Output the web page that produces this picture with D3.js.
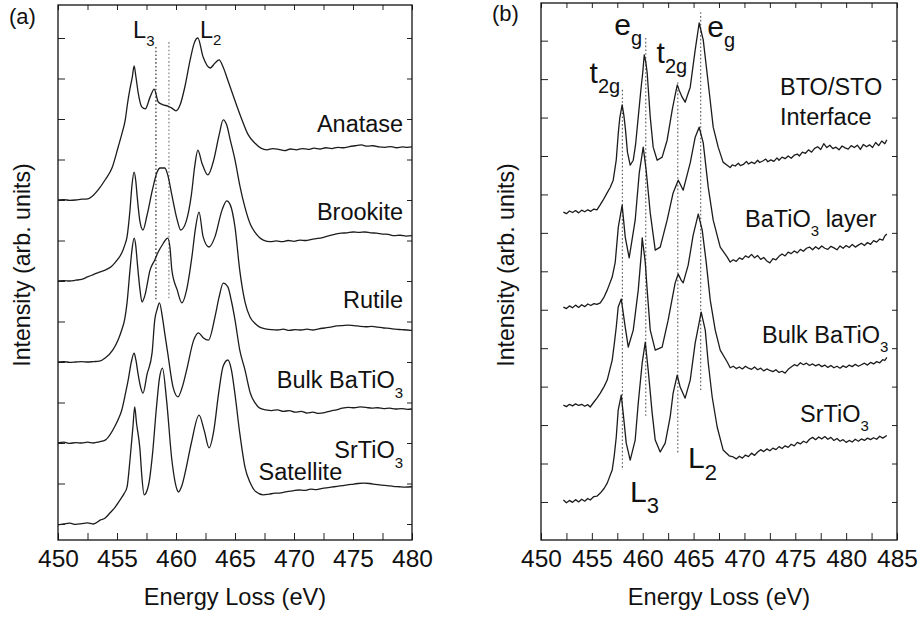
<!DOCTYPE html>
<head>
  <meta charset="utf-8">
  <title>Ti L2,3 edges</title>
  <script src="https://cdn.jsdelivr.net/npm/d3@7"></script>
  <style>
    body { margin: 0; background: #fff; }
    svg text { font-family: "Liberation Sans", Arial, sans-serif; fill: #111; }
  </style>
</head>
<body>
<svg width="920" height="617"></svg>
<script>

// tick labels
var eVLabelsA = [450, 455, 460, 465, 470, 475, 480];
var eVLabelsB = [450, 455, 460, 465, 470, 475, 480, 485];

// ---- panel (a) spectra: [energy loss eV, intensity], before vertical offset ----
var anatase = [[450.0,0.00],[450.5,0.01],[451.0,-0.01],[451.5,0.00],[452.0,0.02],[452.5,0.03],[453.0,0.12],[453.4,0.25],[454.0,0.50],[454.6,0.81],[455.1,1.31],[455.4,1.62],[455.7,1.98],[455.9,2.40],[456.1,2.75],[456.3,3.04],[456.45,3.31],[456.6,3.05],[456.8,2.64],[457.1,2.30],[457.4,2.25],[457.8,2.54],[458.15,2.74],[458.5,2.42],[458.9,2.35],[459.3,2.32],[459.65,2.27],[460.0,2.20],[460.35,2.35],[460.75,2.79],[461.2,3.46],[461.55,3.88],[461.85,4.00],[462.3,3.53],[462.9,3.26],[463.3,3.38],[463.65,3.46],[464.0,3.28],[464.4,2.95],[465.0,2.45],[465.5,2.05],[466.1,1.62],[466.7,1.40],[467.2,1.28],[467.7,1.24],[468.2,1.27],[468.7,1.25],[469.2,1.22],[469.7,1.26],[470.2,1.24],[470.7,1.27],[471.2,1.25],[471.7,1.28],[472.2,1.26],[472.7,1.29],[473.2,1.27],[473.7,1.30],[474.2,1.29],[474.7,1.32],[475.2,1.34],[475.7,1.36],[476.2,1.33],[476.7,1.34],[477.2,1.31],[477.7,1.30],[478.2,1.32],[478.7,1.29],[479.2,1.31],[479.6,1.30],[480.0,1.31]];
var brookite = [[450.0,0.00],[450.5,0.01],[451.0,0.00],[451.5,0.02],[452.0,0.04],[452.5,0.10],[453.0,0.16],[453.5,0.22],[454.0,0.27],[454.5,0.35],[454.8,0.44],[455.1,0.55],[455.4,0.69],[455.65,0.88],[455.85,1.09],[456.1,1.75],[456.27,2.37],[456.45,2.69],[456.6,2.45],[456.7,2.12],[456.95,1.46],[457.2,1.26],[457.55,1.63],[458.0,2.25],[458.4,2.69],[458.65,2.79],[459.05,2.79],[459.3,2.62],[459.65,2.12],[460.1,1.51],[460.4,1.26],[460.85,1.46],[461.3,2.12],[461.6,2.86],[461.85,3.23],[462.2,2.91],[462.7,2.62],[463.2,2.99],[463.65,3.60],[464.0,3.98],[464.3,3.85],[464.6,3.48],[465.0,2.99],[465.4,2.37],[465.85,1.81],[466.3,1.40],[466.7,1.20],[467.4,1.01],[468.0,0.97],[468.5,0.99],[469.0,0.97],[469.5,1.00],[470.0,0.98],[470.5,1.01],[471.0,1.00],[471.5,1.03],[472.0,1.05],[472.5,1.08],[473.0,1.12],[473.5,1.16],[474.0,1.18],[474.5,1.19],[475.0,1.21],[475.5,1.20],[476.0,1.21],[476.5,1.19],[477.0,1.18],[477.5,1.16],[478.0,1.15],[478.5,1.12],[479.0,1.13],[479.5,1.11],[480.0,1.12]];
var rutile = [[450.0,0.00],[450.5,0.01],[451.0,-0.01],[451.5,0.00],[452.0,0.01],[452.5,0.00],[453.0,0.01],[453.5,0.02],[454.0,0.10],[454.65,0.30],[455.1,0.55],[455.4,0.79],[455.65,1.05],[455.85,1.46],[456.1,2.27],[456.27,2.77],[456.45,3.06],[456.6,2.85],[456.7,2.52],[456.95,1.78],[457.12,1.48],[457.37,1.65],[457.8,2.27],[458.2,2.52],[458.45,2.69],[458.9,2.92],[459.3,3.06],[459.5,2.80],[459.65,2.27],[460.1,1.78],[460.5,1.46],[460.9,1.78],[461.35,2.60],[461.65,3.30],[461.95,3.70],[462.3,3.09],[462.8,2.84],[463.3,3.09],[463.9,3.75],[464.3,3.98],[464.6,3.88],[465.0,3.33],[465.4,2.27],[465.85,1.48],[466.27,1.11],[466.7,0.95],[467.1,0.86],[467.6,0.82],[468.1,0.80],[468.6,0.79],[469.1,0.81],[469.6,0.78],[470.1,0.80],[470.6,0.79],[471.1,0.81],[471.6,0.79],[472.1,0.82],[472.6,0.84],[473.1,0.86],[473.6,0.89],[474.1,0.90],[474.6,0.91],[475.1,0.90],[475.6,0.88],[476.1,0.87],[476.6,0.88],[477.1,0.86],[477.6,0.84],[478.1,0.83],[478.6,0.81],[479.1,0.80],[479.6,0.79],[480.0,0.78]];
var bulkBaTiO3A = [[450.0,0.00],[450.5,0.02],[451.0,-0.01],[451.5,0.01],[452.0,0.00],[452.5,0.02],[453.0,0.00],[453.5,0.03],[454.0,0.07],[454.4,0.20],[454.8,0.40],[455.1,0.58],[455.4,0.81],[455.7,1.20],[455.95,1.56],[456.2,1.98],[456.45,2.22],[456.6,2.05],[456.8,1.68],[457.0,1.38],[457.2,1.23],[457.55,1.70],[457.97,2.22],[458.2,3.04],[458.4,3.30],[458.6,3.46],[458.85,3.10],[459.05,2.70],[459.3,2.22],[459.75,1.38],[460.17,1.14],[460.5,1.35],[460.9,1.80],[461.5,2.54],[461.9,2.72],[462.3,2.60],[462.75,2.54],[463.3,3.11],[463.65,3.60],[464.0,3.95],[464.4,3.85],[464.7,3.50],[465.0,3.04],[465.4,2.30],[465.85,1.80],[466.3,1.23],[466.7,0.99],[467.1,0.86],[467.6,0.82],[468.1,0.80],[468.6,0.82],[469.1,0.78],[469.6,0.80],[470.1,0.76],[470.6,0.78],[471.1,0.74],[471.6,0.76],[472.1,0.73],[472.6,0.75],[473.1,0.79],[473.6,0.82],[474.1,0.86],[474.6,0.88],[475.1,0.87],[475.6,0.89],[476.1,0.88],[476.6,0.86],[477.1,0.87],[477.6,0.85],[478.1,0.86],[478.6,0.84],[479.1,0.85],[479.6,0.83],[480.0,0.84]];
var srTiO3A = [[450.0,-0.02],[450.5,0.00],[451.0,0.02],[451.5,-0.01],[452.0,0.01],[452.5,0.03],[453.0,0.00],[453.6,0.10],[454.0,0.15],[454.4,0.27],[454.8,0.40],[455.25,0.59],[455.6,0.75],[455.85,0.91],[456.1,1.58],[456.35,2.40],[456.5,2.89],[456.65,2.50],[456.95,1.83],[457.1,1.20],[457.3,0.72],[457.7,1.00],[458.0,1.70],[458.35,2.90],[458.6,3.60],[458.85,3.85],[459.2,3.06],[459.65,1.58],[460.1,0.84],[460.2,0.79],[460.5,0.95],[460.8,1.30],[461.3,2.00],[461.95,2.69],[462.4,2.30],[462.8,1.88],[463.2,2.30],[463.6,3.20],[464.0,3.90],[464.4,4.05],[464.7,3.80],[465.0,3.20],[465.4,2.25],[465.85,1.40],[466.3,1.01],[466.75,0.80],[467.4,0.72],[467.9,0.74],[468.4,0.76],[468.9,0.77],[469.4,0.80],[469.9,0.82],[470.4,0.84],[470.9,0.83],[471.4,0.86],[471.9,0.85],[472.4,0.88],[472.9,0.90],[473.4,0.92],[473.9,0.94],[474.4,0.96],[474.9,0.98],[475.4,1.00],[475.9,1.01],[476.4,1.00],[476.9,0.98],[477.4,0.96],[477.9,0.95],[478.4,0.93],[478.9,0.92],[479.4,0.91],[480.0,0.92]];
var offsetsA = [8, 6, 4, 2, 0];
var markersA = [458.3, 459.4];

// ---- panel (b) spectra ----
var interfaceB = [[452.2,0.04],[452.5,0.00],[452.8,0.07],[453.1,0.03],[453.4,0.08],[453.7,0.02],[454.0,0.09],[454.3,0.05],[454.6,0.10],[454.9,0.06],[455.2,0.12],[455.5,0.10],[455.8,0.22],[456.1,0.35],[456.5,0.54],[456.8,0.68],[457.1,0.87],[457.4,1.40],[457.6,2.10],[457.75,2.50],[457.98,2.83],[458.15,2.55],[458.3,2.20],[458.5,1.60],[458.77,1.26],[459.07,1.39],[459.3,1.80],[459.56,2.51],[459.85,3.30],[460.0,3.66],[460.15,4.13],[460.3,3.95],[460.44,3.66],[460.74,2.51],[461.03,1.73],[461.42,1.39],[461.91,1.47],[462.4,1.91],[462.9,2.70],[463.2,3.10],[463.4,3.35],[463.6,3.20],[463.88,3.03],[464.17,2.90],[464.67,3.29],[465.16,4.26],[465.55,4.96],[465.95,4.52],[466.44,3.40],[466.93,2.25],[467.42,1.73],[467.9,1.34],[468.3,1.26],[468.6,1.20],[468.8,1.27],[469.1,1.24],[469.4,1.31],[469.6,1.25],[469.9,1.28],[470.2,1.36],[470.4,1.29],[470.7,1.34],[471.0,1.30],[471.3,1.39],[471.5,1.33],[471.8,1.37],[472.1,1.42],[472.3,1.35],[472.6,1.40],[472.9,1.36],[473.2,1.45],[473.4,1.39],[473.7,1.47],[474.0,1.43],[474.3,1.50],[474.6,1.44],[474.9,1.52],[475.2,1.55],[475.4,1.50],[475.7,1.60],[476.0,1.57],[476.3,1.66],[476.6,1.60],[476.9,1.70],[477.2,1.74],[477.5,1.67],[477.8,1.82],[478.1,1.72],[478.4,1.78],[478.7,1.69],[479.0,1.73],[479.3,1.66],[479.6,1.76],[479.9,1.71],[480.2,1.68],[480.5,1.77],[480.8,1.72],[481.1,1.78],[481.4,1.67],[481.7,1.80],[482.0,1.74],[482.3,1.79],[482.6,1.72],[482.9,1.85],[483.2,1.77],[483.5,1.89],[483.8,1.82],[484.0,1.92]];
var layerB = [[452.2,0.07],[452.5,0.03],[452.8,0.10],[453.1,0.05],[453.4,0.12],[453.7,0.06],[454.0,0.13],[454.3,0.08],[454.6,0.15],[454.9,0.11],[455.2,0.16],[455.5,0.14],[455.83,0.18],[456.2,0.33],[456.51,0.51],[457.0,0.85],[457.3,1.24],[457.6,2.15],[457.98,2.72],[458.28,1.89],[458.67,1.35],[459.26,2.33],[459.66,3.56],[460.05,4.23],[460.34,3.63],[460.74,2.52],[461.23,1.55],[461.72,1.63],[462.4,2.33],[462.99,3.04],[463.49,3.37],[463.68,3.27],[463.98,3.11],[464.67,3.82],[465.16,4.49],[465.55,4.75],[465.95,4.34],[466.44,3.19],[466.93,2.33],[467.62,1.63],[468.31,1.37],[468.6,1.24],[468.9,1.30],[469.2,1.26],[469.5,1.35],[469.8,1.31],[470.1,1.40],[470.4,1.36],[470.7,1.44],[471.0,1.35],[471.3,1.41],[471.6,1.31],[471.9,1.36],[472.2,1.27],[472.5,1.22],[472.8,1.33],[473.1,1.30],[473.4,1.39],[473.7,1.45],[474.0,1.40],[474.3,1.50],[474.6,1.46],[474.9,1.53],[475.2,1.48],[475.5,1.57],[475.8,1.52],[476.1,1.60],[476.4,1.63],[476.7,1.56],[477.0,1.64],[477.3,1.58],[477.6,1.66],[477.9,1.60],[478.2,1.57],[478.5,1.65],[478.8,1.61],[479.1,1.56],[479.4,1.66],[479.7,1.60],[480.0,1.67],[480.3,1.62],[480.6,1.70],[480.9,1.63],[481.2,1.68],[481.5,1.73],[481.8,1.67],[482.1,1.75],[482.4,1.70],[482.7,1.80],[483.0,1.76],[483.3,1.84],[483.6,1.81],[483.8,1.92],[484.0,1.97]];
var bulkBaTiO3B = [[452.2,0.02],[452.5,-0.02],[452.8,0.04],[453.1,0.00],[453.4,0.05],[453.7,0.01],[454.0,0.04],[454.3,-0.01],[454.6,0.03],[454.84,-0.03],[455.2,0.10],[455.5,0.20],[455.83,0.33],[456.2,0.50],[456.51,0.67],[457.0,1.19],[457.2,1.60],[457.4,2.05],[457.59,2.57],[457.89,2.78],[458.28,2.05],[458.58,1.53],[459.07,1.97],[459.56,3.01],[459.85,3.92],[459.95,4.37],[460.25,3.74],[460.44,3.01],[460.74,1.97],[461.23,1.45],[461.91,1.53],[462.5,2.23],[463.19,3.20],[463.49,3.43],[463.78,3.27],[463.98,3.20],[464.47,3.66],[464.96,4.44],[465.46,4.99],[465.85,4.57],[466.24,3.74],[466.64,2.75],[467.13,1.97],[467.62,1.45],[468.31,1.14],[468.6,0.99],[468.9,1.03],[469.2,0.97],[469.5,1.01],[469.8,0.96],[470.1,1.03],[470.4,0.98],[470.7,0.95],[471.0,1.01],[471.3,0.94],[471.6,0.98],[471.9,0.91],[472.2,0.96],[472.5,0.92],[472.8,0.89],[473.1,0.94],[473.4,0.87],[473.7,0.90],[474.0,0.85],[474.3,0.95],[474.6,1.01],[474.9,1.07],[475.2,1.04],[475.5,1.12],[475.8,1.07],[476.1,1.11],[476.4,1.05],[476.7,1.09],[477.0,1.04],[477.3,1.08],[477.6,1.02],[477.9,1.06],[478.2,1.00],[478.5,1.05],[478.8,0.99],[479.1,1.03],[479.4,0.98],[479.7,1.04],[480.0,1.00],[480.3,1.06],[480.6,1.02],[480.9,1.08],[481.2,1.03],[481.5,1.07],[481.8,1.11],[482.1,1.06],[482.4,1.13],[482.7,1.09],[483.0,1.15],[483.3,1.12],[483.6,1.20],[483.8,1.18],[484.0,1.26]];
var srTiO3B = [[452.2,0.05],[452.5,-0.02],[452.8,0.04],[453.1,-0.01],[453.4,0.06],[453.7,0.00],[454.0,0.07],[454.3,0.02],[454.6,0.09],[454.84,0.05],[455.2,0.14],[455.5,0.15],[455.83,0.23],[456.2,0.35],[456.51,0.49],[457.0,0.83],[457.2,1.20],[457.4,1.69],[457.59,2.39],[457.89,2.78],[458.08,2.31],[458.38,1.53],[458.77,1.09],[459.26,1.61],[459.56,2.57],[459.95,3.62],[460.25,4.16],[460.54,3.43],[460.93,2.31],[461.23,1.61],[461.72,1.30],[462.21,1.53],[462.7,2.21],[462.99,2.83],[463.39,3.30],[463.68,2.99],[464.17,2.70],[464.67,3.17],[465.16,4.14],[465.75,4.94],[466.15,4.47],[466.44,3.62],[466.83,2.73],[467.32,1.95],[467.91,1.35],[468.5,1.20],[468.9,1.17],[469.2,1.12],[469.5,1.19],[469.8,1.14],[470.1,1.22],[470.4,1.18],[470.7,1.27],[471.0,1.21],[471.3,1.30],[471.6,1.36],[471.9,1.31],[472.2,1.38],[472.5,1.33],[472.8,1.40],[473.1,1.36],[473.4,1.44],[473.7,1.39],[474.0,1.46],[474.3,1.42],[474.6,1.50],[474.9,1.46],[475.2,1.55],[475.5,1.51],[475.8,1.58],[476.1,1.54],[476.4,1.63],[476.7,1.68],[477.0,1.62],[477.3,1.69],[477.6,1.64],[477.9,1.70],[478.2,1.63],[478.5,1.68],[478.8,1.60],[479.1,1.65],[479.4,1.58],[479.7,1.62],[480.0,1.55],[480.3,1.60],[480.6,1.56],[480.9,1.63],[481.2,1.58],[481.5,1.64],[481.8,1.60],[482.1,1.66],[482.4,1.62],[482.7,1.67],[483.0,1.63],[483.3,1.71],[483.6,1.66],[484.0,1.73]];
var offsetsB = [7.5, 5, 2.5, 0];
var markersB = [458.0, 460.3, 463.45, 465.7];

// label texts ("_" marks a subscript piece)
var namesA = [["Anatase"], ["Brookite"], ["Rutile"], ["Bulk BaTiO", "_3"], ["SrTiO", "_3"]];
var namesB = [["BTO/STO"], ["Interface"], ["BaTiO", "_3", " layer"], ["Bulk BaTiO", "_3"], ["SrTiO", "_3"]];

var svg = d3.select("svg");

var xA = d3.scaleLinear().domain([450, 480]).range([58, 412]);
var yA = d3.scaleLinear().domain([-0.395, 12.815]).range([540, 5]);
var xB = d3.scaleLinear().domain([450, 485]).range([541, 897]);
var yB = d3.scaleLinear().domain([-0.99, 12.98]).range([540, 3]);

function richText(sel, parts, subSize, shift) {
  var prevSub = false;
  parts.forEach(function(p) {
    var sub = p[0] === "_";
    var t = sel.append("tspan").text(sub ? p.slice(1) : p);
    if (sub) t.attr("font-size", subSize).attr("dy", shift);
    else if (prevSub) t.attr("dy", -shift);
    prevSub = sub;
  });
  return sel;
}

function frame(x, y, labels) {
  var g = svg.append("g");
  var x0 = x.range()[0], x1 = x.range()[1], yb = y.range()[0], yt = y.range()[1];
  var minor = d3.range(x.domain()[0], x.domain()[1] + 0.01, 2.5);
  var yt_vals = d3.range(0, 13);

  function clean(a) {
    a.select(".domain").remove();
    a.attr("font-family", null).attr("font-size", null);
    a.selectAll("line").attr("stroke", "#222");
  }
  g.append("g").attr("transform", "translate(0," + yb + ")")
    .call(d3.axisBottom(x).tickValues(minor).tickSizeInner(-7).tickSizeOuter(0).tickPadding(10)
      .tickFormat(function(d) { return labels.indexOf(d) >= 0 ? d : ""; }))
    .call(clean)
    .selectAll("text").attr("font-size", 24.5).attr("fill", "#111");
  g.append("g").attr("transform", "translate(0," + yt + ")")
    .call(d3.axisTop(x).tickValues(minor).tickSizeInner(-5).tickSizeOuter(0).tickFormat(""))
    .call(clean);
  g.append("g").attr("transform", "translate(" + x0 + ",0)")
    .call(d3.axisLeft(y).tickValues(yt_vals).tickSizeInner(-7).tickSizeOuter(0).tickFormat(""))
    .call(clean);
  g.append("g").attr("transform", "translate(" + x1 + ",0)")
    .call(d3.axisRight(y).tickValues(yt_vals).tickSizeInner(-5).tickSizeOuter(0).tickFormat(""))
    .call(clean);

  g.append("rect")
    .attr("x", x0).attr("y", yt)
    .attr("width", x1 - x0).attr("height", yb - yt)
    .attr("fill", "none").attr("stroke", "#111").attr("stroke-width", 1.3);

  svg.append("text")
    .attr("x", (x0 + x1) / 2).attr("y", 605)
    .attr("text-anchor", "middle").attr("font-size", 23.6)
    .text("Energy Loss (eV)");
}

function spectra(x, y, series, offsets, curve) {
  series.forEach(function(s, i) {
    var line = d3.line()
      .x(function(d) { return x(d[0]); })
      .y(function(d) { return y(d[1] + offsets[i]); })
      .curve(curve);
    svg.append("path")
      .datum(s)
      .attr("d", line)
      .attr("fill", "none")
      .attr("stroke", "#1c1c1c")
      .attr("stroke-width", 1.3)
      .attr("stroke-linejoin", "round");
  });
}

function marker(x, y, e, top, bottom, col) {
  svg.append("line")
    .attr("x1", x(e)).attr("x2", x(e))
    .attr("y1", y(top)).attr("y2", y(bottom))
    .attr("stroke", col).attr("stroke-width", 1.1)
    .attr("stroke-dasharray", "1.6,2.2");
}

// ---------- panel (a) ----------
frame(xA, yA, eVLabelsA);
marker(xA, yA, markersA[0], 11.78, 5.53, "#222");
marker(xA, yA, markersA[1], 11.9, 5.53, "#777");
spectra(xA, yA, [anatase, brookite, rutile, bulkBaTiO3A, srTiO3A], offsetsA, d3.curveMonotoneX);

var labelPosA = [9.68, 7.51, 5.33, 3.36, 1.63];
namesA.forEach(function(n, i) {
  richText(svg.append("text")
    .attr("x", xA(479.25)).attr("y", yA(labelPosA[i]))
    .attr("text-anchor", "end").attr("font-size", 23.5), n, 15, 10);
});
svg.append("text").attr("x", xA(467.0)).attr("y", yA(1.09))
  .attr("font-size", 23.5).text("Satellite");

richText(svg.append("text").attr("x", xA(456.36)).attr("y", yA(12.0)).attr("font-size", 23.5),
  ["L", "_3"], 15, 8);
richText(svg.append("text").attr("x", xA(462.03)).attr("y", yA(12.0)).attr("font-size", 23.5),
  ["L", "_2"], 15, 7);

svg.append("text").attr("x", 9).attr("y", 24).attr("font-size", 22).text("(a)");
svg.append("text")
  .attr("transform", "translate(30," + 265 + ") rotate(-90)")
  .attr("text-anchor", "middle").attr("font-size", 23.2)
  .text("Intensity (arb. units)");

// ---------- panel (b) ----------
frame(xB, yB, eVLabelsB);
var markerSpan = [[10.72, 0.83], [12.07, 2.21], [10.92, 1.27], [12.74, 2.86]];
markersB.forEach(function(e, i) {
  marker(xB, yB, e, markerSpan[i][0], markerSpan[i][1], "#555");
});
spectra(xB, yB, [interfaceB, layerB, bulkBaTiO3B, srTiO3B], offsetsB, d3.curveLinear);

var labelPosB = [[473.5, 10.59], [473.5, 9.80], [470.06, 7.15], [471.73, 4.14], [475.46, 2.08]];
namesB.forEach(function(n, i) {
  richText(svg.append("text")
    .attr("x", xB(labelPosB[i][0])).attr("y", yB(labelPosB[i][1]))
    .attr("font-size", 23.5), n, 15, 9);
});

// crystal-field labels
var peakLabels = [[["t", "_2g"], 454.78, 10.90], [["e", "_g"], 457.2, 12.15],
                  [["t", "_2g"], 461.36, 11.42], [["e", "_g"], 466.34, 12.09]];
peakLabels.forEach(function(p) {
  richText(svg.append("text").attr("x", xB(p[1])).attr("y", yB(p[2])).attr("font-size", 30),
    p[0], 20, 10);
});
richText(svg.append("text").attr("x", xB(458.75)).attr("y", yB(0.0)).attr("font-size", 30),
  ["L", "_3"], 22, 11);
richText(svg.append("text").attr("x", xB(464.45)).attr("y", yB(0.88)).attr("font-size", 30),
  ["L", "_2"], 22, 12);

svg.append("text").attr("x", 492).attr("y", 21).attr("font-size", 22).text("(b)");
svg.append("text")
  .attr("transform", "translate(514," + 265 + ") rotate(-90)")
  .attr("text-anchor", "middle").attr("font-size", 23.2)
  .text("Intensity (arb. units)");

</script>
</body>
